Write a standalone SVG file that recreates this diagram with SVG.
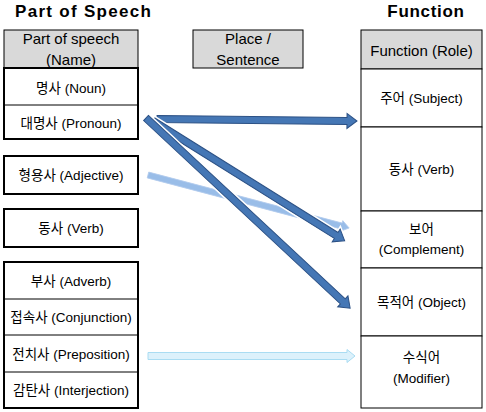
<svg xmlns="http://www.w3.org/2000/svg" xmlns:xlink="http://www.w3.org/1999/xlink" width="486" height="412" viewBox="0 0 486 412">
<style>
.title{font-family:"Liberation Sans","Noto Sans CJK KR",sans-serif;font-weight:bold;font-size:17px;fill:#000}
.t{font-family:"Liberation Sans","Noto Sans CJK KR",sans-serif;font-size:13.5px;fill:#000;text-anchor:middle;dominant-baseline:central}
.h{font-size:15px}
.hdr{fill:#d9d9d9;stroke:#000;stroke-width:1}
.cell{fill:#fff;stroke:#000;stroke-width:1}
.grp{fill:#fff;stroke:#000;stroke-width:2}
.div{stroke:#000;stroke-width:1}
.dark{fill:#4577b5;stroke:#2c5185;stroke-width:1;stroke-linejoin:miter}
.halo{fill:#fff;stroke:#fff;stroke-width:4}
.light{fill:#8fb6e6;stroke:#a9c6ec;stroke-width:0.8;opacity:0.9}
.cyan{fill:#dcf1fb;stroke:#a9dcf2;stroke-width:1}
</style>
<defs>
<path id="a1" d="M0,-3.5 H190 V-7.5 L200,0 L190,7.5 V3.5 H0 Z"/>
<path id="a2" d="M0,-3.5 H216 V-7.5 L226,0 L216,7.5 V3.5 H0 Z"/>
<path id="a3" d="M0,-3.5 H269 V-7.5 L279,0 L269,7.5 V3.5 H0 Z"/>
</defs>

<text class="title" x="15" y="17" style="letter-spacing:1.3px">Part of Speech</text>
<text class="title" x="426" y="17" text-anchor="middle" style="letter-spacing:0.7px">Function</text>

<g id="left-header">
<rect class="hdr" x="4" y="30" width="134" height="38"/>
<text class="t h" x="71" y="38">Part of speech</text>
<text class="t h" x="71" y="59">(Name)</text>
</g>

<g id="noun-group">
<rect class="grp" x="4" y="68" width="134" height="71"/>
<line class="div" x1="4" y1="105" x2="138" y2="105"/>
<text class="t" x="71" y="88">명사 (Noun)</text>
<text class="t" x="71" y="123">대명사 (Pronoun)</text>
</g>

<g id="adjective">
<rect class="grp" x="4" y="156" width="134" height="38"/>
<text class="t" x="71" y="175">형용사 (Adjective)</text>
</g>

<g id="verb-left">
<rect class="grp" x="4" y="209" width="134" height="38"/>
<text class="t" x="71" y="228">동사 (Verb)</text>
</g>

<g id="adverb-group">
<rect class="grp" x="4" y="262" width="134" height="146"/>
<line class="div" x1="4" y1="299" x2="138" y2="299"/>
<line class="div" x1="4" y1="335" x2="138" y2="335"/>
<line class="div" x1="4" y1="372" x2="138" y2="372"/>
<text class="t" x="71" y="281">부사 (Adverb)</text>
<text class="t" x="71" y="317">접속사 (Conjunction)</text>
<text class="t" x="71" y="354">전치사 (Preposition)</text>
<text class="t" x="71" y="390">감탄사 (Interjection)</text>
</g>

<g id="place-header">
<rect class="hdr" x="193" y="30" width="110" height="38"/>
<text class="t h" x="248" y="38">Place /</text>
<text class="t h" x="248" y="59">Sentence</text>
</g>

<g id="function-table">
<rect class="hdr" x="361" y="30" width="121" height="39"/>
<text class="t h" x="421.5" y="50">Function (Role)</text>
<rect class="cell" x="361" y="69" width="121" height="58"/>
<text class="t" x="421.5" y="98">주어 (Subject)</text>
<rect class="cell" x="361" y="127" width="121" height="84"/>
<text class="t" x="421.5" y="169">동사 (Verb)</text>
<rect class="cell" x="361" y="211" width="121" height="57"/>
<text class="t" x="421.5" y="229">보어</text>
<text class="t" x="421.5" y="249">(Complement)</text>
<rect class="cell" x="361" y="268" width="121" height="68"/>
<text class="t" x="421.5" y="302">목적어 (Object)</text>
<rect class="cell" x="361" y="336" width="121" height="72"/>
<text class="t" x="421.5" y="357">수식어</text>
<text class="t" x="421.5" y="378">(Modifier)</text>
</g>

<g id="connectors">
<path class="light" transform="translate(148,175) rotate(14.77)" d="M0,-3 H200 V-5.5 L208,0 L200,5.5 V3 H0 Z"/>
<path class="cyan" transform="translate(148,356)" d="M0,-3.5 H199 V-6.5 L207,0 L199,6.5 V3.5 H0 Z"/>
<use xlink:href="#a1" class="halo" transform="translate(157,119) rotate(0.57)"/>
<use xlink:href="#a1" class="dark" transform="translate(157,119) rotate(0.57)"/>
<use xlink:href="#a2" class="halo" transform="translate(153,121) rotate(32)"/>
<use xlink:href="#a2" class="dark" transform="translate(153,121) rotate(32)"/>
<use xlink:href="#a3" class="halo" transform="translate(146,118) rotate(42.97)"/>
<use xlink:href="#a3" class="dark" transform="translate(146,118) rotate(42.97)"/>
</g>
</svg>
